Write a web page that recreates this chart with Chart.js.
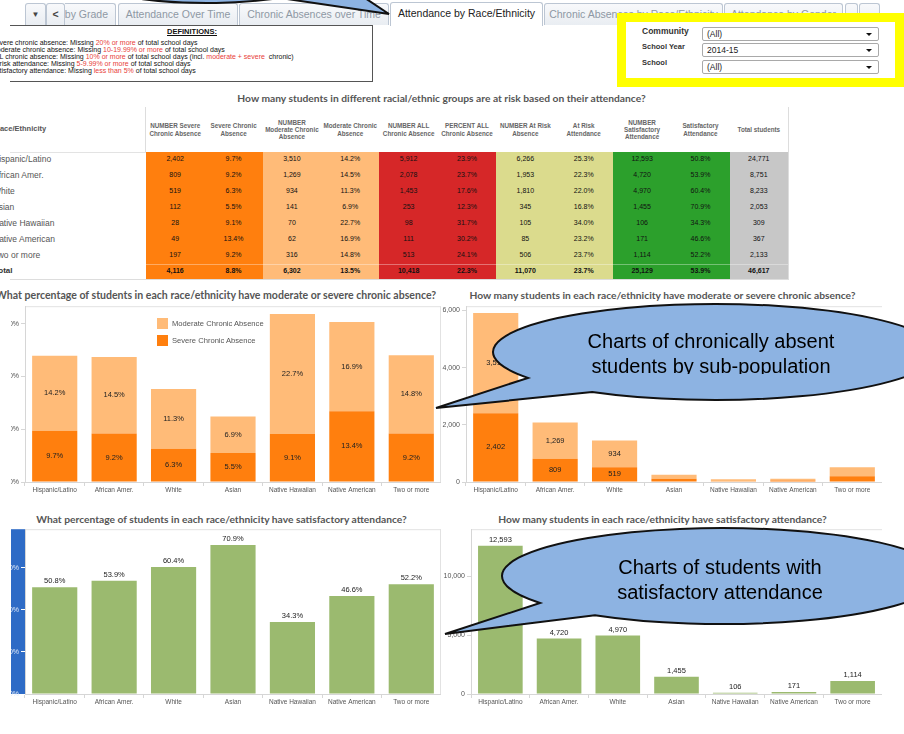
<!DOCTYPE html>
<html>
<head>
<meta charset="utf-8">
<script src="https://cdn.jsdelivr.net/npm/chart.js@4.4.1/dist/chart.umd.min.js"></script>
<style>
  body { margin: 0; background: #fff; font-family: "Liberation Sans", Arial, sans-serif; }
  #page { position: relative; width: 904px; height: 734px; overflow: hidden; background: #fff; }
  .abs { position: absolute; }
  .tab { position: absolute; top: 3px; height: 22px; line-height: 21px; box-sizing: border-box;
         border: 1px solid #bcc6d3; border-bottom: none; border-radius: 3px 3px 0 0;
         background: linear-gradient(#f8f9fb, #e9edf2); color: #8e98a4; font-size: 10.5px;
         white-space: nowrap; overflow: hidden; text-align: center; }
  .tab.active { background: #fff; color: #222; top: 2px; height: 24px; }
  .defs { position: absolute; left: 10px; top: 25px; width: 362px; height: 55px;
          border: 1px solid #555; border-left: none; }
  .defline { position: absolute; left: -9px; font-size: 7px; line-height: 7px; white-space: nowrap; color: #111; }
  .red { color: #e8403a; }
  .filt-label { position: absolute; left: 642px; font-weight: bold; color: #333; white-space: nowrap; }
  .dd { position: absolute; left: 702px; width: 177px; height: 14px; box-sizing: border-box;
        border: 1px solid #a9a9a9; border-radius: 2px; font-size: 8.5px; line-height: 12px;
        padding-left: 4px; color: #222; background: #fff; }
  .dd:after { content: ""; position: absolute; right: 6px; top: 5px; border: 3px solid transparent;
              border-top: 3.5px solid #111; border-bottom: none; }
  .title { position: absolute; font-family: Lato, "Liberation Sans", sans-serif; font-weight: bold;
           font-size: 10.25px; color: #555; white-space: nowrap; text-align: center; }
  .th { position: absolute; top: 107px; height: 45px; display: flex; align-items: center; justify-content: center;
        text-align: center; font-size: 6.3px; line-height: 7.3px; font-weight: bold; color: #666; }
  .td { position: absolute; height: 16px; line-height: 14px; text-align: center; font-size: 7px; color: #111; }
  .rl { position: absolute; left: -7px; height: 16px; line-height: 14px; font-size: 8.5px; color: #555; white-space: nowrap; }
  canvas { position: absolute; }
  .bubble-text { position: absolute; width: 400px; text-align: center; font-size: 20px; line-height: 25px;
                 color: #000; overflow: hidden; white-space: nowrap; }
  .leg-sw { position: absolute; width: 11px; height: 11px; }
  .leg-tx { position: absolute; font-size: 7.6px; color: #555; white-space: nowrap; line-height: 11px; }
</style>
</head>
<body>
<div id="page">
  <!-- tabs -->
  <div class="tab" style="left:25px;width:21px;font-size:8px;color:#444">&#9660;</div>
  <div class="tab" style="left:46px;width:19px;color:#444;font-weight:bold">&lt;</div>
  <div class="abs" style="left:65px;top:0;width:51px;height:26px;overflow:hidden">
    <div class="tab" style="right:0;padding:0 7px 0 7px">Attendance by Grade</div>
  </div>
  <div class="tab" style="left:118px;width:120px">Attendance Over Time</div>
  <div class="tab" style="left:239px;width:150px">Chronic Absences over Time</div>
  <div class="tab active" style="left:390px;width:153px">Attendance by Race/Ethnicity</div>
  <div class="tab" style="left:544px;width:179px">Chronic Absences by Race/Ethnicity</div>
  <div class="tab" style="left:724px;width:119px">Attendance by Gender</div>
  <div class="tab" style="left:845px;width:13px"></div>
  <div class="tab" style="left:859px;width:21px"></div>

  <!-- definitions -->
  <div class="defs">
    <div class="abs" style="left:157px;top:1px;font-size:7.5px;font-weight:bold;text-decoration:underline;color:#111">DEFINITIONS:</div>
  </div>
  <div class="defline" style="top:39px">Severe chronic absence: Missing <span class="red">20% or more</span> of total school days</div>
  <div class="defline" style="top:46px">Moderate chronic absence: Missing <span class="red">10-19.99% or more</span> of total school days</div>
  <div class="defline" style="top:53px">ALL chronic absence: Missing <span class="red">10% or more</span> of total school days (incl. <span class="red">moderate + severe</span>&nbsp; chronic)</div>
  <div class="defline" style="top:60px">At risk attendance: Missing <span class="red">5-9.99% or more</span> of total school days</div>
  <div class="defline" style="top:67px">Satisfactory attendance: Missing <span class="red">less than 5%</span> of total school days</div>

  <!-- filters -->
  <div class="abs" style="left:617px;top:13px;width:287px;height:74px;box-sizing:border-box;border:9px solid #ffff00;background:#fff"></div>
  <div class="filt-label" style="top:26px;font-size:8.5px">Community</div>
  <div class="filt-label" style="top:42px;font-size:7.5px">School Year</div>
  <div class="filt-label" style="top:58px;font-size:7.5px">School</div>
  <div class="dd" style="top:27px">(All)</div>
  <div class="dd" style="top:43px">2014-15</div>
  <div class="dd" style="top:60px">(All)</div>

  <!-- table -->
  <div class="title" style="left:0;width:883px;top:92px">How many students in different racial/ethnic groups are at risk based on their attendance?</div>
  <div id="table"></div>

  <!-- chart titles -->
  <div class="title" style="left:-12px;width:456px;top:289px;font-size:10.55px">What percentage of students in each race/ethnicity have moderate or severe chronic absence?</div>
  <div class="title" style="left:440px;width:445px;top:289px">How many students in each race/ethnicity have moderate or severe chronic absence?</div>
  <div class="title" style="left:0;width:443px;top:513px">What percentage of students in each race/ethnicity have satisfactory attendance?</div>
  <div class="title" style="left:440px;width:445px;top:513px">How many students in each race/ethnicity have satisfactory attendance?</div>

  <canvas id="pctChronic" width="430" height="200" style="left:11px;top:300px"></canvas>
  <canvas id="numChronic" width="445" height="200" style="left:437px;top:300px"></canvas>
  <canvas id="pctSat" width="430" height="189" style="left:11px;top:523px"></canvas>
  <canvas id="numSat" width="445" height="189" style="left:437px;top:523px"></canvas>

  <!-- legend for first chart -->
  <div class="leg-sw" style="left:157px;top:318px;background:#ffbb78"></div>
  <div class="leg-tx" style="left:172px;top:318px">Moderate Chronic Absence</div>
  <div class="leg-sw" style="left:157px;top:335px;background:#ff7f0e"></div>
  <div class="leg-tx" style="left:172px;top:335px">Severe Chronic Absence</div>

  <!-- callouts -->
  <svg class="abs" style="left:0;top:0;z-index:5" width="904" height="734">
    <path id="bTop" fill="#8db3e2" stroke="#111" stroke-width="2" stroke-linejoin="miter"/>
    <path id="b1" fill="#8db3e2" stroke="#111" stroke-width="2" stroke-linejoin="miter"/>
    <path id="b2" fill="#8db3e2" stroke="#111" stroke-width="2" stroke-linejoin="miter"/>
  </svg>
  <div class="bubble-text" style="left:511px;top:329px;height:45px;z-index:6">Charts of chronically absent<br>students by sub-population</div>
  <div class="bubble-text" style="left:520px;top:555px;height:45px;z-index:6">Charts of students with<br>satisfactory attendance</div>
</div>

<script>
const groups = ['Hispanic/Latino', 'African Amer.', 'White', 'Asian', 'Native Hawaiian', 'Native American', 'Two or more']

const severeCount = [2402, 809, 519, 112, 28, 49, 197]
const severePct = [9.7, 9.2, 6.3, 5.5, 9.1, 13.4, 9.2]
const moderateCount = [3510, 1269, 934, 141, 70, 62, 316]
const moderatePct = [14.2, 14.5, 11.3, 6.9, 22.7, 16.9, 14.8]
const allChronicCount = [5912, 2078, 1453, 253, 98, 111, 513]
const allChronicPct = [23.9, 23.7, 17.6, 12.3, 31.7, 30.2, 24.1]
const atRiskCount = [6266, 1953, 1810, 345, 105, 85, 506]
const atRiskPct = [25.3, 22.3, 22.0, 16.8, 34.0, 23.2, 23.7]
const satisfactoryCount = [12593, 4720, 4970, 1455, 106, 171, 1114]
const satisfactoryPct = [50.8, 53.9, 60.4, 70.9, 34.3, 46.6, 52.2]
const totalStudents = [24771, 8751, 8233, 2053, 309, 367, 2133]

// Total row, as printed
const totalsRow = [4116, 8.8, 6302, 13.5, 10418, 22.3, 11070, 23.7, 25129, 53.9, 46617]

// axis ticks and top of each value axis
const pctChronicTicks = [0, 10, 20, 30]
const numChronicTicks = [0, 2000, 4000, 6000]
const pctSatTicks = [0, 20, 40, 60]
const numSatTicks = [0, 5000, 10000]
const pctChronicMax = 33.3
const numChronicMax = 6150
const pctSatMax = 78.4
const numSatMax = 14000

const ORANGE = '#ff7f0e'
const LIGHT_ORANGE = '#ffbb78'
const RED = '#d62728'
const KHAKI = '#dbdb8d'
const GREEN = '#2ca02c'
const GRAY = '#c7c7c7'
const BAR_GREEN = '#9bba6f'
const FONT = '"Liberation Sans", Arial, sans-serif'

const num = v => v.toLocaleString('en-US')
const pct = v => v.toFixed(1) + '%'

// ---------- table ----------
const columns = [
  ['NUMBER Severe<br>Chronic Absence', severeCount, num, ORANGE],
  ['Severe Chronic<br>Absence', severePct, pct, ORANGE],
  ['NUMBER<br>Moderate Chronic<br>Absence', moderateCount, num, LIGHT_ORANGE],
  ['Moderate Chronic<br>Absence', moderatePct, pct, LIGHT_ORANGE],
  ['NUMBER ALL<br>Chronic Absence', allChronicCount, num, RED],
  ['PERCENT ALL<br>Chronic Absence', allChronicPct, pct, RED],
  ['NUMBER At Risk<br>Absence', atRiskCount, num, KHAKI],
  ['At Risk<br>Attendance', atRiskPct, pct, KHAKI],
  ['NUMBER<br>Satisfactory<br>Attendance', satisfactoryCount, num, GREEN],
  ['Satisfactory<br>Attendance', satisfactoryPct, pct, GREEN],
  ['Total students', totalStudents, num, GRAY]
]

const table = document.getElementById('table')
let html = ''
html += '<div class="abs" style="left:-5.5px;top:107px;height:45px;line-height:43px;font-size:7.5px;font-weight:bold;color:#555">Race/Ethnicity</div>'
html += '<div class="abs" style="left:145px;top:107px;width:1px;height:45px;background:#ddd"></div>'
html += '<div class="abs" style="left:10px;top:152px;width:136px;height:1px;background:#e3e3e3"></div>'
groups.concat(['Total']).forEach((g, r) => {
  const bold = r === groups.length ? 'font-weight:bold;color:#333;left:-6px;font-size:8px;' : ''
  html += `<div class="rl" style="${bold}top:${152 + r * 16}px">${g}</div>`
})
const colW = (788 - 146) / 11
columns.forEach(([head, vals, fmt, bg], c) => {
  const x = 146 + c * colW
  html += `<div class="th" style="left:${x}px;width:${colW}px">${head}</div>`
  html += `<div class="abs" style="left:${x}px;top:152px;width:${colW + 0.5}px;height:128px;background:${bg}"></div>`
  vals.forEach((v, r) => {
    html += `<div class="td" style="left:${x}px;width:${colW}px;top:${152 + r * 16}px">${fmt(v)}</div>`
  })
  html += `<div class="td" style="left:${x}px;width:${colW}px;top:264px;font-weight:bold">${fmt(totalsRow[c])}</div>`
})
html += '<div class="abs" style="left:10px;top:264px;width:778px;height:1px;background:rgba(255,255,255,0.35)"></div>'
html += '<div class="abs" style="left:10px;top:279px;width:779px;height:1px;background:#ddd"></div>'
html += '<div class="abs" style="left:788px;top:107px;width:1px;height:173px;background:#ddd"></div>'
table.innerHTML = html

// ---------- chart helpers ----------
const valueLabels = {
  id: 'valueLabels',
  afterDatasetsDraw(chart, args, opts) {
    const ctx = chart.ctx
    ctx.save()
    ctx.font = '7.5px ' + FONT
    ctx.fillStyle = '#222'
    ctx.textAlign = 'center'
    ctx.textBaseline = 'middle'
    chart.data.datasets.forEach((ds, i) => {
      chart.getDatasetMeta(i).data.forEach((bar, j) => {
        const p = bar.getProps(['x', 'y', 'base'], true)
        const text = opts.format(ds.data[j])
        if (opts.above) ctx.fillText(text, p.x, p.y - 6)
        else if (p.base - p.y > 14) ctx.fillText(text, p.x, (p.y + p.base) / 2)
      })
    })
    ctx.restore()
  }
}

const frame = {
  id: 'frame',
  beforeDraw(chart, args, opts) {
    const { ctx, chartArea: a } = chart
    ctx.save()
    if (opts.highlight) {
      ctx.fillStyle = opts.highlight
      ctx.fillRect(0, a.top, a.left, a.bottom - a.top)
    }
    ctx.strokeStyle = '#e2e2e2'
    ctx.lineWidth = 1
    ctx.beginPath()
    ctx.moveTo(a.left, a.top + 0.5)
    ctx.lineTo(a.right, a.top + 0.5)
    if (opts.right) {
      ctx.moveTo(a.right - 0.5, a.top)
      ctx.lineTo(a.right - 0.5, a.bottom)
    }
    ctx.stroke()
    ctx.restore()
  }
}

function makeChart(id, datasets, yMax, tickValues, fmtTick, yWidth, labelOpts, frameOpts, tickColor) {
  return new Chart(document.getElementById(id), {
    type: 'bar',
    data: { labels: groups, datasets },
    plugins: [frame, valueLabels],
    options: {
      responsive: false,
      animation: false,
      layout: { padding: { top: 4, left: 0, right: 0, bottom: 0 } },
      plugins: {
        legend: { display: false },
        tooltip: { enabled: false },
        valueLabels: labelOpts,
        frame: frameOpts
      },
      datasets: { bar: { barPercentage: 0.76, categoryPercentage: 1 } },
      scales: {
        x: {
          stacked: true,
          grid: { offset: true, drawOnChartArea: false, tickLength: 4, color: '#d6d6d6' },
          border: { color: '#d6d6d6' },
          ticks: { font: { size: 6.5, family: FONT }, color: '#555', padding: 0, maxRotation: 0, autoSkip: false },
          afterFit: s => { s.height = 18 }
        },
        y: {
          stacked: true,
          min: 0,
          max: yMax,
          grid: { drawOnChartArea: false, tickLength: 4, color: tickColor ? '#ffffff' : '#d6d6d6' },
          border: { color: '#d6d6d6' },
          ticks: {
            callback: fmtTick,
            font: { size: 7, family: FONT },
            color: tickColor || '#555',
            padding: 2
          },
          afterBuildTicks: s => { s.ticks = tickValues.map(value => ({ value })) },
          afterFit: s => { s.width = yWidth }
        }
      }
    }
  })
}

const pctTick = v => v + '%'
const numTick = v => v.toLocaleString('en-US')

makeChart('pctChronic', [
  { label: 'Severe Chronic Absence', data: severePct, backgroundColor: ORANGE },
  { label: 'Moderate Chronic Absence', data: moderatePct, backgroundColor: LIGHT_ORANGE }
], pctChronicMax, pctChronicTicks, pctTick, 14, { format: pct }, { right: true })

makeChart('numChronic', [
  { label: 'Severe Chronic Absence', data: severeCount, backgroundColor: ORANGE },
  { label: 'Moderate Chronic Absence', data: moderateCount, backgroundColor: LIGHT_ORANGE }
], numChronicMax, numChronicTicks, numTick, 29, { format: num }, {})

makeChart('pctSat', [
  { label: 'Satisfactory Attendance', data: satisfactoryPct, backgroundColor: BAR_GREEN }
], pctSatMax, pctSatTicks, pctTick, 14, { format: pct, above: true }, { right: true, highlight: '#2e6bc6' }, '#dfe8f6')

makeChart('numSat', [
  { label: 'Satisfactory Attendance', data: satisfactoryCount, backgroundColor: BAR_GREEN }
], numSatMax, numSatTicks, numTick, 34, { format: num, above: true }, {})

// ---------- callout bubbles ----------
function bubble(cx, cy, rx, ry, a1, a2, tx, ty) {
  const pt = a => [cx + rx * Math.cos(a * Math.PI / 180), cy + ry * Math.sin(a * Math.PI / 180)]
  const [x1, y1] = pt(a1)
  const [x2, y2] = pt(a2)
  return `M${x1},${y1} A${rx},${ry} 0 1 1 ${x2},${y2} L${tx},${ty} Z`
}
document.getElementById('bTop').setAttribute('d', bubble(207, -37, 150, 40, 60.9, 27.5, 389, 14))
document.getElementById('b1').setAttribute('d', bubble(715, 352, 222, 48, 147.4, 123.6, 436, 408))
document.getElementById('b2').setAttribute('d', bubble(722, 576, 220, 48, 145.8, 125.3, 445, 634))
</script>
</body>
</html>
